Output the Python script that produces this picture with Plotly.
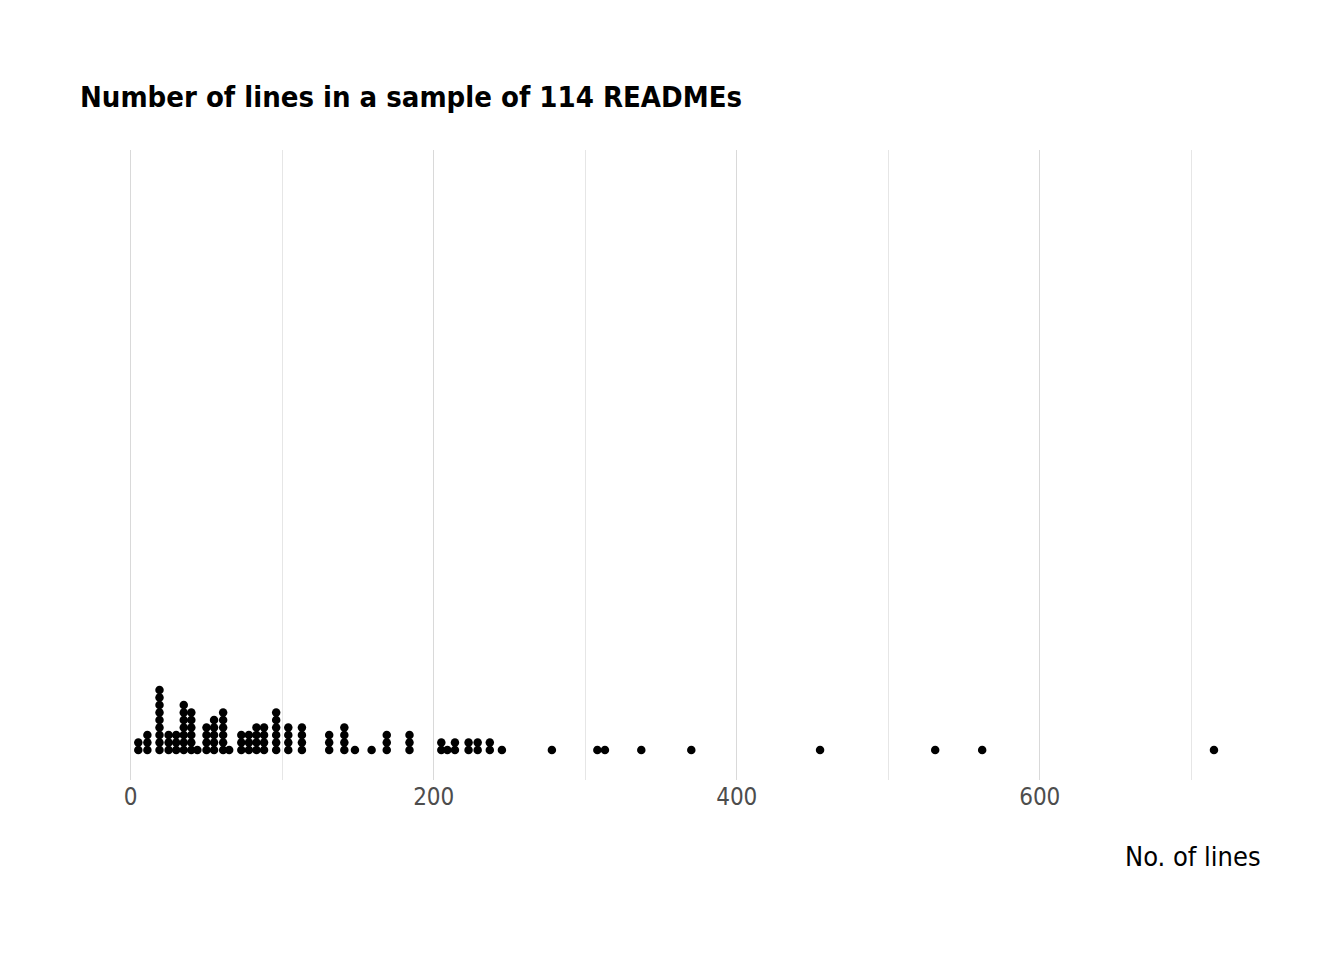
import plotly.graph_objects as go

# dot columns: number of lines (bin centre) and how many READMEs are stacked there
col_lines = [5, 11, 19, 25, 30, 35, 40, 44, 50, 55, 61, 65, 73, 78, 83, 88,
             96, 104, 113, 131, 141, 148, 159, 169, 184, 205, 209, 214, 223,
             229, 237, 245, 278, 308, 313, 337, 370, 455, 531, 562, 715]
col_counts = [2, 3, 9, 3, 3, 7, 6, 1, 4, 5, 6, 1, 3, 3, 4, 4,
              6, 4, 4, 3, 4, 1, 1, 3, 3, 2, 1, 2, 2,
              2, 2, 1, 1, 1, 1, 1, 1, 1, 1, 1, 1]

xs, ys = [], []
for v, n in zip(col_lines, col_counts):
    for i in range(n):
        xs.append(v)
        ys.append(i)

fig = go.Figure()
fig.add_trace(go.Scatter(
    x=xs, y=ys, mode='markers',
    marker=dict(color='black', size=8.5),
    showlegend=False
))

font = "Liberation Sans Narrow, DejaVu Sans Condensed, Roboto, sans-serif"
fig.update_layout(
    width=1344, height=960,
    plot_bgcolor='white', paper_bgcolor='white',
    margin=dict(l=75, r=85, t=142, b=188),
    title=dict(text="<b>Number of lines in a sample of 114 READMEs</b>",
               x=72/1344, xanchor='left', y=1-89/960, yanchor='middle',
               font=dict(family=font, size=29, color='black')),
    xaxis=dict(range=[-31.5, 750], tickvals=[0, 200, 400, 600],
               showgrid=True, gridcolor='#d9d9d9', gridwidth=1,
               zeroline=False, showline=False, ticks='',
               tickfont=dict(family=font, size=24, color='#4d4d4d')),
    yaxis=dict(range=[-4, 80], visible=False, showgrid=False),
    annotations=[dict(text="No. of lines", x=0.9966, y=-0.122,
                      xref='paper', yref='paper', xanchor='right', yanchor='middle',
                      showarrow=False, font=dict(family=font, size=27, color='black'))]
)
# minor gridlines at the odd hundreds
fig.update_xaxes(minor=dict(tickvals=[100, 300, 500, 700], showgrid=True,
                            gridcolor='#e6e6e6', gridwidth=1))

fig.write_html("out.html")
